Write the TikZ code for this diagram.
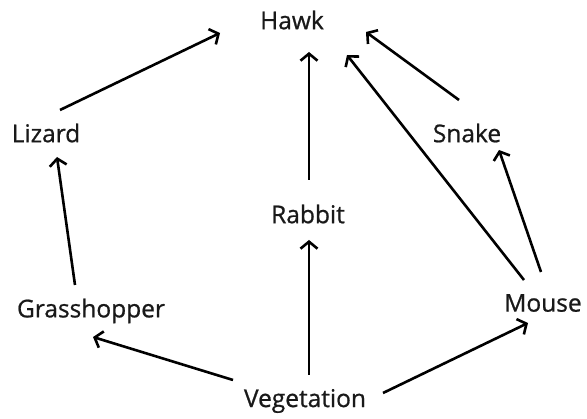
\documentclass[tikz,border=0pt]{standalone}
\usepackage{fontspec}
\setmainfont{Open Sans}[FakeBold=0.8]
\usetikzlibrary{arrows.meta,calc}
\begin{document}
\begin{tikzpicture}[x=1pt,y=-1pt,
  lbl/.style={font=\fontsize{24.5}{28}\selectfont, text=black!90, inner sep=0pt},
  arr/.style={line width=2.6pt, -{Straight Barb[length=7pt,width=17pt,line width=2.6pt]}}]
\useasboundingbox (0,0) rectangle (587,419);
\node[lbl] (hawk) at (292,20) {Hawk};
\node[lbl] (lizard) at (46,133) {Lizard};
\node[lbl] (snake) at (467,133) {Snake};
\node[lbl] (rabbit) at (308,214) {Rabbit};
\node[lbl] (grass) at (91,311) {Grasshopper};
\node[lbl] (mouse) at (543,303) {Mouse};
\node[lbl] (veg) at (305,401) {Vegetation};
\draw[arr] ($(lizard)+(14,-23)$) -- ($(hawk)+(-72,13)$);
\draw[arr] ($(rabbit)+(1,-34)$) -- ($(hawk)+(17,32)$);
\draw[arr] ($(snake)+(-8,-33)$) -- ($(hawk)+(74,12)$);
\draw[arr] ($(mouse)+(-19,-23)$) -- ($(hawk)+(55,35)$);
\draw[arr] ($(mouse)+(-2,-31)$) -- ($(snake)+(32,17)$);
\draw[arr] ($(grass)+(-16,-26)$) -- ($(lizard)+(11,24)$);
\draw[arr] ($(veg)+(-72,-21)$) -- ($(grass)+(2,26)$);
\draw[arr] ($(veg)+(4,-26)$) -- ($(rabbit)+(1,26)$);
\draw[arr] ($(veg)+(78,-8)$) -- ($(mouse)+(-15,20)$);
\end{tikzpicture}
\end{document}
